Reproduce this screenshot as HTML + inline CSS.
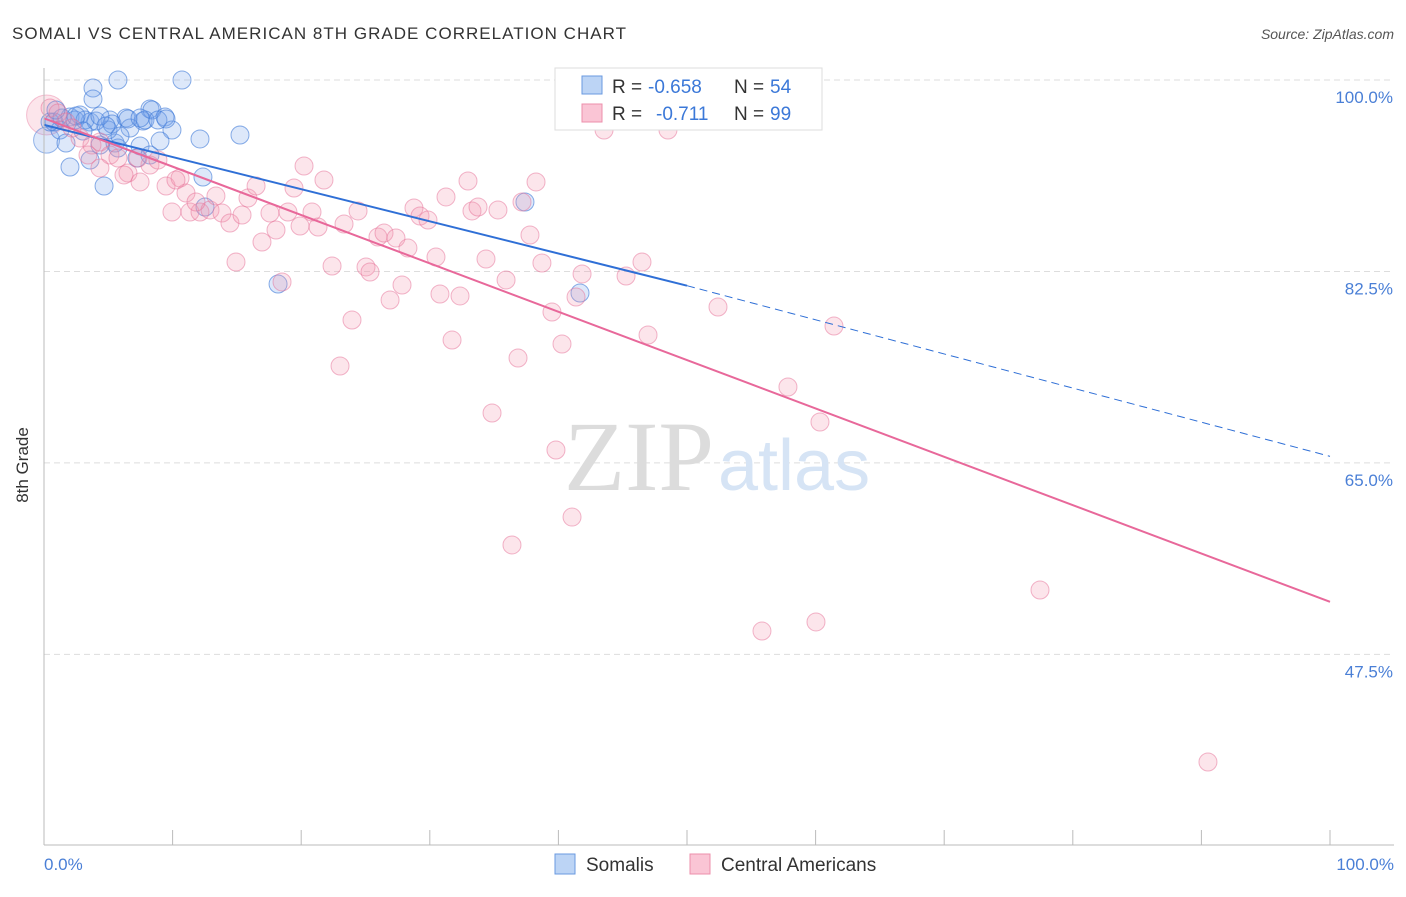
<!DOCTYPE html>
<html><head><meta charset="utf-8">
<style>
body{margin:0;background:#fff;font-family:"Liberation Sans",sans-serif;}
</style></head>
<body>
<svg id="chart" width="1406" height="892" xmlns="http://www.w3.org/2000/svg" font-family="Liberation Sans, sans-serif">
<text x="12" y="39" font-size="17" fill="#333" textLength="614">SOMALI VS CENTRAL AMERICAN 8TH GRADE CORRELATION CHART</text>
<text x="1394" y="39" font-size="14" fill="#555" font-style="italic" text-anchor="end">Source: ZipAtlas.com</text>
<g id="grid"></g>
<text x="714" y="490" font-size="100" fill="#dcdcdc" text-anchor="end" style="font-family:'Liberation Serif',serif">ZIP</text>
<text x="718" y="490" font-size="72" fill="#d6e4f5">atlas</text>
<g id="points"></g>
<g id="trends"></g>
<line x1="44" y1="68" x2="44" y2="845" stroke="#bbb"/>
<line x1="44" y1="845" x2="1394" y2="845" stroke="#bbb"/>
<g id="ticks"></g>
<text x="18" y="455" font-size="17" fill="#333" text-anchor="middle" transform="rotate(-90 28 455)">8th Grade</text>
<text x="44" y="870" font-size="17" fill="#4a7fd6">0.0%</text>
<text x="1394" y="870" font-size="17" fill="#4a7fd6" text-anchor="end">100.0%</text>
<g>
<rect x="555" y="68" width="267" height="62" fill="#fff" stroke="#ddd"/>
<rect x="582" y="76" width="20" height="18" fill="#bcd4f5" stroke="#6a9ae0"/>
<rect x="582" y="104" width="20" height="18" fill="#fac5d5" stroke="#ec8fab"/>
<text x="612" y="93" font-size="19" fill="#333">R =</text>
<text x="648" y="93" font-size="19" fill="#3b78d8">-0.658</text>
<text x="734" y="93" font-size="19" fill="#333">N =</text>
<text x="770" y="93" font-size="19" fill="#3b78d8">54</text>
<text x="612" y="120" font-size="19" fill="#333">R =</text>
<text x="656" y="120" font-size="19" fill="#3b78d8">-0.711</text>
<text x="734" y="120" font-size="19" fill="#333">N =</text>
<text x="770" y="120" font-size="19" fill="#3b78d8">99</text>
</g>
<g>
<rect x="555" y="854" width="20" height="20" fill="#bcd4f5" stroke="#6a9ae0"/>
<text x="586" y="871" font-size="19" fill="#333">Somalis</text>
<rect x="690" y="854" width="20" height="20" fill="#fac5d5" stroke="#ec8fab"/>
<text x="721" y="871" font-size="19" fill="#333">Central Americans</text>
</g>
</svg>
<script>
const yTicks=[100,82.5,65,47.5];
const xTickVals=[0,10,20,30,40,50,60,70,80,90,100];
const bluePx=[[93,88],[118,80],[182,80],[93,99],[54,122],[70,117],[80,115],[90,122],[110,120],[126,118],[143,121],[150,109],[152,110],[165,117],[172,130],[200,139],[240,135],[60,130],[66,143],[70,167],[90,160],[104,186],[100,145],[115,143],[118,148],[108,130],[140,146],[137,158],[150,155],[160,141],[203,177],[205,207],[278,284],[525,202],[580,293],[50,122],[62,118],[75,120],[85,120],[96,121],[112,124],[130,128],[145,120],[158,120],[166,119],[76,116],[56,110],[128,119],[100,116],[106,126],[120,136],[140,118],[83,131]];
const pinkPx=[[50,108],[58,113],[66,122],[80,138],[92,145],[100,142],[110,155],[118,158],[128,173],[140,182],[150,165],[158,160],[166,186],[172,212],[180,178],[186,193],[190,212],[200,212],[210,210],[216,196],[222,213],[230,223],[236,262],[242,215],[248,198],[256,186],[262,242],[270,213],[276,230],[282,282],[288,212],[294,188],[300,226],[304,166],[312,212],[318,227],[324,180],[332,266],[340,366],[344,224],[352,320],[358,211],[366,267],[370,272],[378,237],[384,233],[390,300],[396,238],[402,285],[408,248],[414,208],[420,216],[428,220],[436,257],[440,294],[446,197],[452,340],[460,296],[468,181],[472,211],[478,207],[486,259],[492,413],[498,210],[506,280],[512,545],[518,358],[522,202],[530,235],[536,182],[542,263],[552,312],[556,450],[562,344],[572,517],[576,297],[582,274],[604,130],[626,276],[642,262],[648,335],[668,130],[676,82],[718,307],[762,631],[788,387],[816,622],[820,422],[834,326],[1040,590],[1208,762],[72,128],[88,155],[100,168],[124,175],[138,158],[176,180],[196,202]];
const somaliX=bluePx.map(p=>+((p[0]-44)/12.86).toFixed(2));
const somaliY=bluePx.map(p=>+(100-(p[1]-80)/10.94).toFixed(2));
const centralX=pinkPx.map(p=>+((p[0]-44)/12.86).toFixed(2));
const centralY=pinkPx.map(p=>+(100-(p[1]-80)/10.94).toFixed(2));
const blueTrend=[95.9,81.2,65.6];
const pinkTrend=[96.5,52.3];
const NS='http://www.w3.org/2000/svg';
const X=v=>44+v*12.86, Y=v=>80+(100-v)*10.94;
function mk(tag,attrs,parent){const e=document.createElementNS(NS,tag);for(const k in attrs)e.setAttribute(k,attrs[k]);parent.appendChild(e);return e;}
const grid=document.getElementById('grid');
yTicks.forEach(t=>{
 const l=mk('line',{x1:44,x2:1394,y1:Y(t),y2:Y(t),stroke:'#ddd','stroke-dasharray':'6,4'},grid);
 
 
 const tx=mk('text',{x:1393,y:Y(t)+23,'font-size':17,fill:'#4a7fd6','text-anchor':'end'},grid);
 tx.textContent=t.toFixed(1)+'%';
 
 
});
const ticks=document.getElementById('ticks');
xTickVals.forEach(v=>{
 const l=mk('line',{x1:X(v),x2:X(v),y1:830,y2:845,stroke:'#bbb'},ticks);
 
 
});
const pts=document.getElementById('points');
let c=mk('circle',{cx:X(0.2),cy:Y(96.8),r:20,fill:'rgba(245,150,175,0.25)',stroke:'rgba(230,110,150,0.4)'},pts);


c=mk('circle',{cx:X(0.2),cy:Y(94.5),r:13,fill:'rgba(120,165,235,0.25)',stroke:'rgba(60,120,215,0.5)'},pts);


somaliX.forEach((x,i)=>{
 const e=mk('circle',{cx:X(x),cy:Y(somaliY[i]),r:9,fill:'rgba(120,165,235,0.25)',stroke:'rgba(60,120,215,0.6)','stroke-width':1},pts);
 
 
});
centralX.forEach((x,i)=>{
 const e=mk('circle',{cx:X(x),cy:Y(centralY[i]),r:9,fill:'rgba(245,150,175,0.25)',stroke:'rgba(230,110,150,0.5)','stroke-width':1},pts);
 
 
});
const tr=document.getElementById('trends');
let t=mk('line',{x1:X(0),y1:Y(blueTrend[0]),x2:X(50),y2:Y(blueTrend[1]),stroke:'#2f6fd6','stroke-width':2},tr);


t=mk('line',{x1:X(50),y1:Y(blueTrend[1]),x2:X(100),y2:Y(blueTrend[2]),stroke:'#2f6fd6','stroke-width':1,'stroke-dasharray':'8,5'},tr);


t=mk('line',{x1:X(0),y1:Y(pinkTrend[0]),x2:X(100),y2:Y(pinkTrend[1]),stroke:'#e8689a','stroke-width':2},tr);


</script>
</body></html>
